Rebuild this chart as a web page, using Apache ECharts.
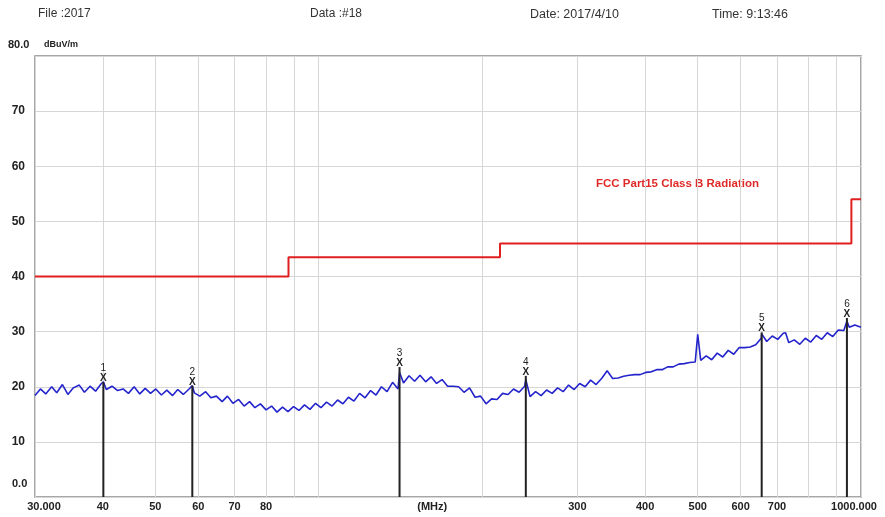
<!DOCTYPE html>
<html>
<head>
<meta charset="utf-8">
<script src="https://cdn.jsdelivr.net/npm/echarts@6/dist/echarts.min.js"></script>
<style>
  html, body { margin: 0; padding: 0; background: #fff; }
  #main { width: 885px; height: 517px; }
</style>
</head>
<body>
<div id="main"></div>
<script>
// scan trace (MHz / dBuV/m)
const traceFreq = [
  30.0, 30.7, 31.4, 32.2, 32.9, 33.7, 34.5, 35.3, 36.2, 37.0, 37.9, 38.8, 39.7, 40.1, 40.6, 41.6, 42.6, 43.6, 44.6, 45.7,
  46.8, 47.9, 49.0, 50.1, 51.3, 52.5, 53.8, 55.0, 56.3, 57.7, 58.5, 59.0, 60.4, 61.9, 63.3, 64.8, 66.4, 67.9, 69.5, 71.2,
  72.9, 74.6, 76.3, 78.1, 80.0, 81.9, 83.8, 85.8, 87.8, 89.9, 92.0, 94.2, 96.4, 98.7, 101, 103.4, 105.9, 108.4, 110.9, 113.5,
  116.2, 119, 121.8, 124.7, 127.6, 130.6, 133.7, 136.9, 140.1, 141, 143.4, 146.8, 150.3, 153.8, 157.5, 161.2, 165, 168.9, 172.9, 177,
  181.2, 185.4, 189.8, 194.3, 198.9, 203.6, 208.4, 213.3, 218.4, 223.5, 228.8, 234.2, 239.8, 241, 245.4, 251.2, 257.2, 263.2, 269.5, 275.8,
  282.4, 289, 295.9, 302.9, 310, 317.3, 324.8, 332.5, 340.4, 348.4, 356.7, 365.1, 373.7, 382.6, 391.6, 400.9, 410.3, 420, 430, 440.1,
  450.5, 461.2, 472.1, 483.2, 494.7, 500, 506.4, 518.3, 530.6, 543.1, 556, 569.1, 582.6, 596.3, 610.4, 624.9, 639.6, 654.8, 656, 670.2,
  686.1, 702.3, 718.9, 726, 735.9, 753.3, 771.1, 789.3, 808, 827.1, 846.6, 866.6, 887.1, 908.1, 929.6, 942, 951.5, 974, 1000
];
const traceLevel = [
  18.4, 19.6, 18.7, 20.0, 18.9, 20.4, 18.6, 19.8, 20.3, 19.0, 20.1, 19.2, 20.5, 20.9, 19.5, 20.1, 19.3, 19.6, 18.8, 20.0,
  18.7, 19.7, 18.8, 19.6, 18.5, 19.4, 18.4, 19.5, 18.6, 19.6, 20.2, 18.9, 18.3, 19.1, 18.0, 18.3, 17.3, 18.3, 17.0, 17.7,
  16.5, 17.3, 16.2, 16.9, 15.8, 16.5, 15.4, 16.3, 15.5, 16.4, 15.7, 16.7, 15.9, 17.0, 16.2, 17.2, 16.5, 17.6, 16.9, 18.1,
  17.4, 18.8, 18.0, 19.3, 18.5, 20.0, 19.1, 20.8, 19.6, 22.6, 20.7, 22.0, 21.0, 22.1, 20.9, 21.8, 20.6, 21.3, 20.1, 20.1,
  20.0, 19.0, 19.8, 18.1, 18.3, 16.9, 17.8, 17.7, 18.8, 18.6, 19.6, 19.0, 20.1, 21.3, 18.2, 19.1, 18.4, 19.4, 18.8, 19.8,
  19.1, 20.3, 19.5, 20.6, 20.0, 21.2, 20.4, 21.5, 22.9, 21.5, 21.6, 21.9, 22.1, 22.2, 22.2, 22.6, 22.7, 23.1, 23.1, 23.6,
  23.6, 24.1, 24.2, 24.4, 24.5, 29.5, 24.8, 25.6, 24.9, 26.1, 25.4, 26.6, 25.9, 27.1, 27.1, 27.2, 27.6, 28.8, 29.6, 28.2,
  29.2, 28.6, 29.7, 29.8, 28.0, 28.5, 27.7, 28.8, 28.1, 29.3, 28.6, 29.8, 29.1, 30.3, 30.2, 31.9, 30.8, 31.2, 30.8
];

// FCC Part15 Class B limit steps
const limitFreq = [30, 88, 88, 216, 216, 960, 960, 1000];
const limitLevel = [40, 40, 43.5, 43.5, 46, 46, 54, 54];

// peak markers
const markerNo = ['1', '2', '3', '4', '5', '6'];
const markerFreq = [40.1, 58.5, 141, 241, 656, 942];
const markerLevel = [21.6, 20.9, 24.3, 22.7, 30.6, 33.2];

// axis ticks
const gridFreq = [30, 40, 50, 60, 70, 80, 90, 100, 200, 300, 400, 500, 600, 700, 800, 900, 1000];
const labelFreq = [30, 40, 50, 60, 70, 80, 162, 300, 400, 500, 600, 700, 1000];
const labelText = ['30.000', '40', '50', '60', '70', '80', '(MHz)', '300', '400', '500', '600', '700', '1000.000'];

const lg = Math.log10;
const font = '"Liberation Sans", Arial, sans-serif';

const chart = echarts.init(document.getElementById('main'), null, { renderer: 'canvas' });

const option = {
  animation: false,
  backgroundColor: '#fff',
  grid: {
    left: 35, right: 24, top: 56, bottom: 20,
    show: true, borderColor: '#8a8a8a', borderWidth: 1.5
  },
  xAxis: {
    type: 'value',
    min: lg(30),
    max: lg(1000),
    axisLine: { show: false },
    axisTick: { show: false, customValues: gridFreq.map(lg) },
    splitLine: { show: true, lineStyle: { color: '#d6d6d6', width: 1 } },
    axisLabel: {
      customValues: labelFreq.map(lg),
      margin: 4,
      color: '#222',
      fontFamily: font,
      fontWeight: 'bold',
      fontSize: 11,
      formatter: function (v) {
        for (let i = 0; i < labelFreq.length; i++) {
          if (Math.abs(lg(labelFreq[i]) - v) < 1e-6) {
            if (i === 0) return '{l|' + labelText[i] + '}';
            if (i === labelFreq.length - 1) return '{r|' + labelText[i] + '}';
            return labelText[i];
          }
        }
        return '';
      },
      rich: {
        l: { padding: [0, 0, 0, 18], fontFamily: font, fontWeight: 'bold', fontSize: 11, color: '#222' },
        r: { padding: [0, 14, 0, 0], fontFamily: font, fontWeight: 'bold', fontSize: 11, color: '#222' }
      }
    }
  },
  yAxis: {
    type: 'value',
    min: 0,
    max: 80,
    interval: 10,
    axisLine: { show: false },
    axisTick: { show: false },
    splitLine: { show: true, lineStyle: { color: '#d6d6d6', width: 1 } },
    axisLabel: {
      margin: 10,
      color: '#222',
      fontFamily: font,
      fontWeight: 'bold',
      fontSize: 12,
      formatter: function (v) { return (v === 0 || v === 80) ? '' : String(v); }
    }
  },
  graphic: [
    { type: 'text', left: 38, top: 8, style: { text: 'File :2017', font: '12px ' + font, fill: '#333' } },
    { type: 'text', left: 310, top: 8, style: { text: 'Data :#18', font: '12px ' + font, fill: '#333' } },
    { type: 'text', left: 530, top: 8, style: { text: 'Date: 2017/4/10', font: '12.5px ' + font, fill: '#333' } },
    { type: 'text', left: 712, top: 8, style: { text: 'Time: 9:13:46', font: '12.5px ' + font, fill: '#333' } },
    { type: 'text', left: 8, top: 39, style: { text: '80.0', font: 'bold 11px ' + font, fill: '#222' } },
    { type: 'text', left: 44, top: 40, style: { text: 'dBuV/m', font: 'bold 9px ' + font, fill: '#222' } },
    { type: 'text', left: 12, top: 478, style: { text: '0.0', font: 'bold 11px ' + font, fill: '#222' } },
    { type: 'text', left: 596, top: 178, style: { text: 'FCC Part15 Class B Radiation', font: 'bold 11.5px ' + font, fill: '#e02a2a' } }
  ],
  series: [
    {
      name: 'limit',
      type: 'line',
      showSymbol: false,
      data: limitFreq.map((f, i) => [lg(f), limitLevel[i]]),
      lineStyle: { color: '#e02020', width: 2 },
      z: 3
    },
    {
      name: 'trace',
      type: 'line',
      showSymbol: false,
      data: traceFreq.map((f, i) => [lg(f), traceLevel[i]]),
      lineStyle: { color: '#2424cc', width: 1.6 },
      z: 4
    },
    {
      name: 'markers',
      type: 'custom',
      data: markerFreq.map((f, i) => [lg(f), markerLevel[i], i]),
      renderItem: function (params, api) {
        const top = api.coord([api.value(0), api.value(1)]);
        const base = api.coord([api.value(0), 0]);
        const idx = api.value(2);
        return {
          type: 'group',
          children: [
            { type: 'line', shape: { x1: top[0], y1: top[1] + 4, x2: base[0], y2: base[1] },
              style: { stroke: '#222', lineWidth: 2 } },
            { type: 'text', x: top[0], y: top[1],
              style: { text: 'X', font: 'bold 10px ' + font, fill: '#222', align: 'center', verticalAlign: 'middle' } },
            { type: 'text', x: top[0], y: top[1] - 10,
              style: { text: markerNo[idx], font: '10px ' + font, fill: '#222', align: 'center', verticalAlign: 'middle' } }
          ]
        };
      },
      z: 5
    }
  ]
};

chart.setOption(option);
</script>
</body>
</html>
